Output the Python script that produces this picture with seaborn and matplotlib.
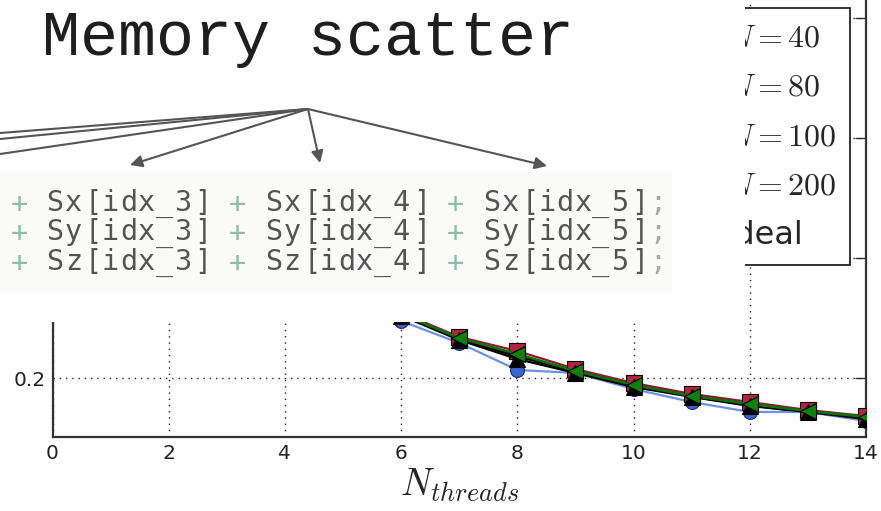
import matplotlib
matplotlib.use("Agg")
import matplotlib.pyplot as plt
from matplotlib.patches import Rectangle, FancyArrowPatch
from matplotlib.lines import Line2D
import seaborn as sns

# ---- data -------------------------------------------------------------
threads = [6, 7, 8, 9, 10, 11, 12, 13, 14]
time_n40 = [0.2475, 0.2292, 0.2067, 0.2042, 0.1908, 0.1800, 0.1717, 0.1717, 0.1642]
time_n80 = [0.2545, 0.2342, 0.2225, 0.2075, 0.1958, 0.1867, 0.1800, 0.1733, 0.1683]
time_n100 = [0.2520, 0.2317, 0.2158, 0.2042, 0.1925, 0.1842, 0.1767, 0.1717, 0.1658]
time_n200 = [0.2533, 0.2333, 0.2200, 0.2058, 0.1942, 0.1850, 0.1783, 0.1725, 0.1675]
time_ideal = [0.2530, 0.2325, 0.2183, 0.2058, 0.1942, 0.1850, 0.1775, 0.1717, 0.1667]

series_labels = ["$N=40$", "$N=80$", "$N=100$", "$N=200$", "Ideal"]
x_ticks = [0, 2, 4, 6, 8, 10, 12, 14]
y_ticks = [0.2, 0.3, 0.4, 0.5]
# only the lowest y label lies outside the slide's blank title area
y_tick_labels = ["0.2", "", "", ""]

title_text = "Memory scatter"
code_lines = [
    "+ Sx[idx_3] + Sx[idx_4] + Sx[idx_5];",
    "+ Sy[idx_3] + Sy[idx_4] + Sy[idx_5];",
    "+ Sz[idx_3] + Sz[idx_4] + Sz[idx_5];",
]

# ---- figure -----------------------------------------------------------
W, H = 881, 511
sns.set_style("white")
plt.rcParams["mathtext.fontset"] = "cm"
plt.rcParams["font.family"] = ["DejaVu Sans"]

fig = plt.figure(figsize=(W / 100, H / 100), dpi=100)


def fx(px):
    return px / W


def fy(py):
    return 1 - py / H


ax = fig.add_axes([fx(52.5), fy(437), fx(866) - fx(52.5), fy(-20) - fy(437)])

ax.plot(threads, time_ideal, color="black", lw=2.2, zorder=2)
sns.lineplot(x=threads, y=time_n40, ax=ax, color="#6d8fe6", lw=1.6,
             marker="o", markersize=10, markerfacecolor="#3a64d0",
             markeredgecolor="#1c2f66", markeredgewidth=0.8, zorder=3)
sns.lineplot(x=threads, y=time_n80, ax=ax, color="#8a1c2c", lw=1.6,
             marker="s", markersize=11, markerfacecolor="#b3263f",
             markeredgecolor="black", markeredgewidth=0.8, zorder=4)
sns.lineplot(x=threads, y=time_n100, ax=ax, color="black", lw=1.6,
             marker="^", markersize=11, markerfacecolor="black",
             markeredgecolor="black", markeredgewidth=0.8, zorder=5)
sns.lineplot(x=threads, y=time_n200, ax=ax, color="#0c700c", lw=1.8,
             marker="<", markersize=12, markerfacecolor="#0f800f",
             markeredgecolor="black", markeredgewidth=0.8, zorder=6)

ax.set_xlim(0, 14)
ax.set_ylim(0.2 - 59 / 1200, 0.2 + 398 / 1200)
ax.set_xticks(x_ticks)
ax.set_yticks(y_ticks)
ax.set_yticklabels(y_tick_labels)
ax.grid(True, color="#222222", lw=1.0, linestyle=(0, (1, 3.5)))
ax.tick_params(direction="in", length=8, width=1, color="#333333",
               labelsize=14.5, labelcolor="#222222", pad=5,
               top=True, right=True)
for s in ax.spines.values():
    s.set_color("#333333")
    s.set_linewidth(1.6)
ax.set_xlabel("$N_{threads}$", fontsize=27, labelpad=3)

# legend built from the plotted lines
lines = [l for l in ax.get_lines() if len(l.get_xdata()) == len(threads)]
ideal_line, l40, l80, l100, l200 = lines[:5]
handles = [l40, l80, l100, l200, ideal_line]
leg = ax.legend(handles, series_labels, loc="upper right",
                bbox_to_anchor=(fx(850), fy(8)), bbox_transform=fig.transFigure,
                borderaxespad=0, fontsize=23, fancybox=False, framealpha=1,
                edgecolor="#111111", labelspacing=0.58, borderpad=0.44,
                handletextpad=0.4)
leg.get_frame().set_linewidth(1.2)

# ---- slide overlay: blank area, title, code listing, arrows -------------
fig.add_artist(Rectangle((fx(0), fy(268)), fx(745), fy(0) - fy(268),
                         transform=fig.transFigure, facecolor="white",
                         edgecolor="none", zorder=10))
fig.add_artist(Rectangle((fx(0), fy(322)), fx(700), fy(0) - fy(322),
                         transform=fig.transFigure, facecolor="white",
                         edgecolor="none", zorder=10))
fig.add_artist(Rectangle((fx(0), fy(292)), fx(672), fy(172) - fy(292),
                         transform=fig.transFigure, facecolor="#fafaf9",
                         edgecolor="none", zorder=11))

fig.text(fx(42), fy(55), title_text, fontsize=45.5, family="Liberation Mono",
         color="#1e1e1e", va="baseline", ha="left", zorder=12)

# code listing, one glyph per monospace cell
adv = 18.2
x0 = 9.5
baselines = [211, 240.5, 270]
for line, yb in zip(code_lines, baselines):
    for i, ch in enumerate(line):
        if ch == " ":
            continue
        if ch == "+":
            col = "#8dbcad"
        elif ch == ";":
            col = "#a8a8a8"
        else:
            col = "#545454"
        glyph = r"\_" if ch == "_" else ch
        fig.text(fx(x0 + i * adv + adv / 2), fy(yb), r"$\mathtt{" + glyph + "}$",
                 fontsize=20.5, math_fontfamily="dejavusans", color=col,
                 va="baseline", ha="center", zorder=12)

origin = (308, 109)
for ex, ey in [(0, 133), (0, 139), (0, 154)]:
    fig.add_artist(Line2D([fx(origin[0]), fx(ex)], [fy(origin[1]), fy(ey)],
                          transform=fig.transFigure, color="#555555",
                          lw=1.5, zorder=13))
for tx, ty in [(130, 165), (320, 163), (547, 166)]:
    fig.add_artist(FancyArrowPatch((fx(origin[0]), fy(origin[1])), (fx(tx), fy(ty)),
                                   transform=fig.transFigure, arrowstyle="-|>",
                                   mutation_scale=18, color="#555555", lw=1.5,
                                   shrinkA=0, shrinkB=0, zorder=13))

fig.savefig("out.png", dpi=100)
